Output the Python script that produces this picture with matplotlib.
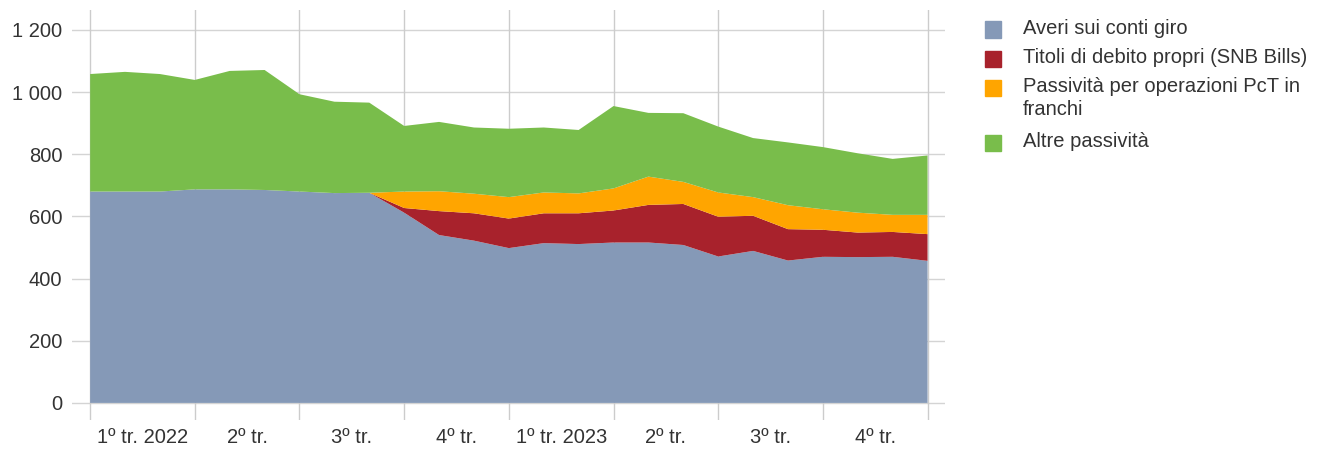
import matplotlib.pyplot as plt
from matplotlib.patches import Rectangle

# month-end values, Dec 2021 .. Dec 2023 (CHF bn)
months = list(range(25))
averi = [680, 680, 680, 687, 687, 685, 680, 675, 676, 612, 540, 522, 498,
         514, 511, 516, 516, 508, 471, 489, 458, 470, 469, 470, 457]
titoli = [0, 0, 0, 0, 0, 0, 0, 0, 0, 15, 77, 88, 95,
          96, 99, 103, 121, 132, 128, 113, 101, 87, 79, 80, 86]
pct = [0, 0, 0, 0, 0, 0, 0, 0, 0, 53, 64, 63, 69,
       67, 64, 71, 91, 71, 78, 60, 77, 66, 64, 55, 62]
totale = [1058, 1065, 1058, 1039, 1068, 1071, 993, 969, 966, 891, 904, 886, 882,
          886, 878, 955, 933, 932, 889, 852, 838, 823, 803, 785, 796]
altre = [t - a - b - c for t, a, b, c in zip(totale, averi, titoli, pct)]

quarter_labels = ["1º tr. 2022", "2º tr.", "3º tr.", "4º tr.",
                  "1º tr. 2023", "2º tr.", "3º tr.", "4º tr."]
legend_labels = ["Averi sui conti giro", "Titoli di debito propri (SNB Bills)",
                 "Passività per operazioni PcT in\nfranchi", "Altre passività"]
colors = ["#8599b7", "#a8222c", "#ffa500", "#79bd4b"]

plt.rcParams['font.family'] = ['Liberation Sans', 'DejaVu Sans']
txt = "#333333"

fig = plt.figure(figsize=(13.3, 4.5), dpi=100)
ax = fig.add_axes([72 / 1330, 30 / 450, (945 - 72) / 1330, 410 / 450])

ax.stackplot(months, averi, titoli, pct, altre, colors=colors, linewidth=0, zorder=2)

ax.set_xlim(-0.52, 24.5)
ax.set_ylim(-55, 1264)
for y in range(0, 1201, 200):
    ax.axhline(y, color="#d4d4d4", lw=1, zorder=1)
for x in range(0, 25, 3):
    ax.axvline(x, color="#cccccc", lw=1, zorder=1)

for s in ax.spines.values():
    s.set_visible(False)
ax.set_yticks(range(0, 1201, 200))
ax.set_yticklabels(["0", "200", "400", "600", "800", "1 000", "1 200"])
ax.set_xticks([1.5 + 3 * i for i in range(8)])
ax.set_xticklabels(quarter_labels)
ax.tick_params(length=0, labelsize=14.5, colors=txt)
ax.tick_params(axis="y", pad=7)
ax.tick_params(axis="x", pad=6)

# legend drawn by hand
rows = [29.5, 59, 88, 143]
for lab, col, yc in zip(legend_labels, colors, rows):
    fig.patches.append(Rectangle((985 / 1330, 1 - (yc + 8) / 450), 16 / 1330, 16 / 450,
                                 transform=fig.transFigure, color=col))
    fig.text(1023 / 1330, 1 - (yc - 11) / 450, lab, fontsize=14.5, color=txt,
             va="top", ha="left", linespacing=1.25)

plt.savefig("out.png")
